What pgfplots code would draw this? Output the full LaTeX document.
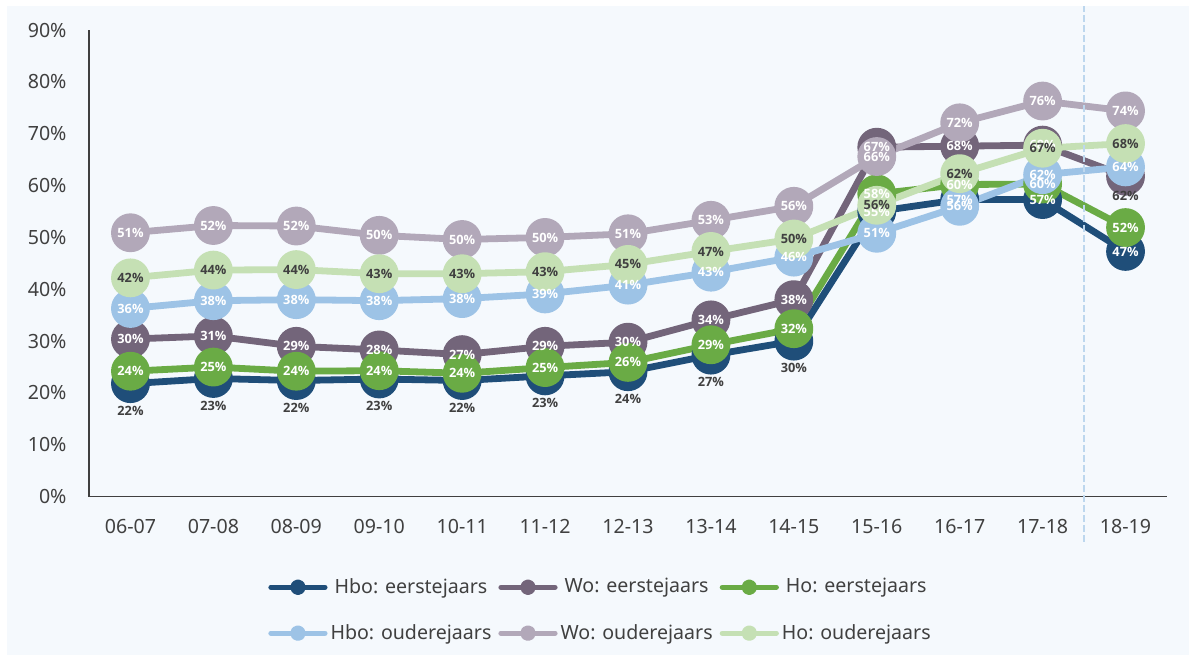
\documentclass[border=0pt]{standalone}
\usepackage{fontspec}
\setmainfont{Noto Sans}
\newfontfamily\lblfont{Open Sans}
\usepackage{pgfplots}
\pgfplotsset{compat=1.18}
\usepackage{pgfplotstable}
\definecolor{hboA}{RGB}{31,78,121}
\definecolor{woA}{RGB}{115,101,122}
\definecolor{hoA}{RGB}{106,171,69}
\definecolor{hboB}{RGB}{157,195,230}
\definecolor{woB}{RGB}{178,168,185}
\definecolor{hoB}{RGB}{197,224,180}
\definecolor{bgc}{RGB}{245,249,253}
\definecolor{txt}{RGB}{64,64,64}
\definecolor{dashc}{RGB}{189,215,238}

\pgfplotstableread{
x he we hoe hbo wo ho
0 21.8 30.4 24.2 36.3 50.9 42.2
1 22.8 31.0 25.0 37.8 52.3 43.7
2 22.4 29.0 24.2 38.0 52.2 43.8
3 22.7 28.3 24.3 37.8 50.4 43.0
4 22.4 27.4 23.8 38.2 49.6 43.0
5 23.3 29.0 24.9 39.1 50.0 43.4
6 24.1 29.8 25.9 40.8 50.7 44.8
7 27.3 34.1 29.3 43.3 53.3 47.3
8 30.0 38.0 32.4 46.2 56.0 49.7
9 55.0 67.4 58.4 50.8 65.6 56.2
10 57.3 67.6 60.2 56.0 72.1 62.3
11 57.3 67.8 60.3 62.1 76.3 67.2
12 47.3 61.8 51.9 63.6 74.4 68.1
}\data

\pgfplotsset{
  serie/.style={color=#1, line width=3.4pt, line join=round, mark=*, mark size=8pt,
     mark options={draw=none, fill=#1}},
  lbl/.style={draw=none, forget plot,
     nodes near coords={\pgfmathprintnumber[fixed,precision=0]{\pgfplotspointmeta}\%},
     nodes near coords align={center},
     every node near coord/.append style={anchor=center, font=\lblfont\fontsize{6.4}{7}\selectfont\bfseries, text=#1, inner sep=0pt}},
}

\begin{document}
\begin{tikzpicture}[x=1pt,y=1pt]
\fill[white] (0,0) rectangle (594.5,330);
\fill[bgc] (3.5,2.5) rectangle (594.5,327);
\begin{axis}[
  at={(44.5pt,81.65pt)}, anchor=south west,
  scale only axis, width=539pt, height=233.35pt,
  xmin=-0.5, xmax=12.5, ymin=0, ymax=90,
  clip=false,
  axis x line*=bottom, axis y line*=left,
  x axis line style={-, draw=txt, line width=0.7pt},
  y axis line style={-, draw=txt, line width=0.7pt},
  major tick length=0pt,
  /pgf/number format/assume math mode=true,
  ytick={0,10,...,90},
  yticklabel={\pgfmathprintnumber{\tick}\%},
  xtick={0,...,12},
  xticklabels={06-07,07-08,08-09,09-10,10-11,11-12,12-13,13-14,14-15,15-16,16-17,17-18,18-19},
  tick label style={font=\fontsize{9.8}{12}\selectfont, text=txt},
  yticklabel style={xshift=-7.7pt},
  xticklabel style={yshift=-8pt},
  legend columns=3,
  legend style={at={(0.166,-0.174)}, anchor=north west, draw=none, fill=none,
     inner sep=0pt, row sep=14pt, font=\fontsize{9.8}{12}\selectfont, text=txt,
     nodes={inner xsep=1.5pt, inner ysep=0pt},
     /tikz/every even column/.append style={column sep=2pt}},
  legend image code/.code={\draw[line width=2.6pt, line cap=round] (0pt,0pt) -- (27pt,0pt); \fill (13.5pt,0pt) circle (2.2pt);},
]
\addplot[serie=hboA] table[x=x,y=he]{\data};
\addlegendentry{Hbo: eerstejaars}
\addplot[serie=woA] table[x=x,y=we]{\data};
\addlegendentry{Wo: eerstejaars}
\addplot[serie=hoA] table[x=x,y=hoe]{\data};
\addlegendentry{Ho: eerstejaars}
\addplot[serie=hboB] table[x=x,y=hbo]{\data};
\addlegendentry{Hbo: ouderejaars}
\addplot[serie=woB] table[x=x,y=wo]{\data};
\addlegendentry{Wo: ouderejaars}
\addplot[serie=hoB] table[x=x,y=ho]{\data};
\addlegendentry{Ho: ouderejaars}

\draw[dashc, line width=1.25pt, dash pattern=on 3.5pt off 1.5pt] (axis cs:11.5,-8.7) -- (axis cs:11.5,94.6);

% labels
\addplot[lbl=txt, restrict x to domain=0:8, every node near coord/.append style={yshift=-13.5pt}] table[x=x,y=he]{\data};
\addplot[lbl=white, restrict x to domain=9:12] table[x=x,y=he]{\data};
\addplot[lbl=white, restrict x to domain=0:11] table[x=x,y=we]{\data};
\addplot[lbl=txt, restrict x to domain=12:12, every node near coord/.append style={yshift=-10pt}] table[x=x,y=we]{\data};
\addplot[lbl=white] table[x=x,y=hoe]{\data};
\addplot[lbl=white] table[x=x,y=hbo]{\data};
\addplot[lbl=white] table[x=x,y=wo]{\data};
\addplot[lbl=txt] table[x=x,y=ho]{\data};
\end{axis}
\end{tikzpicture}
\end{document}
